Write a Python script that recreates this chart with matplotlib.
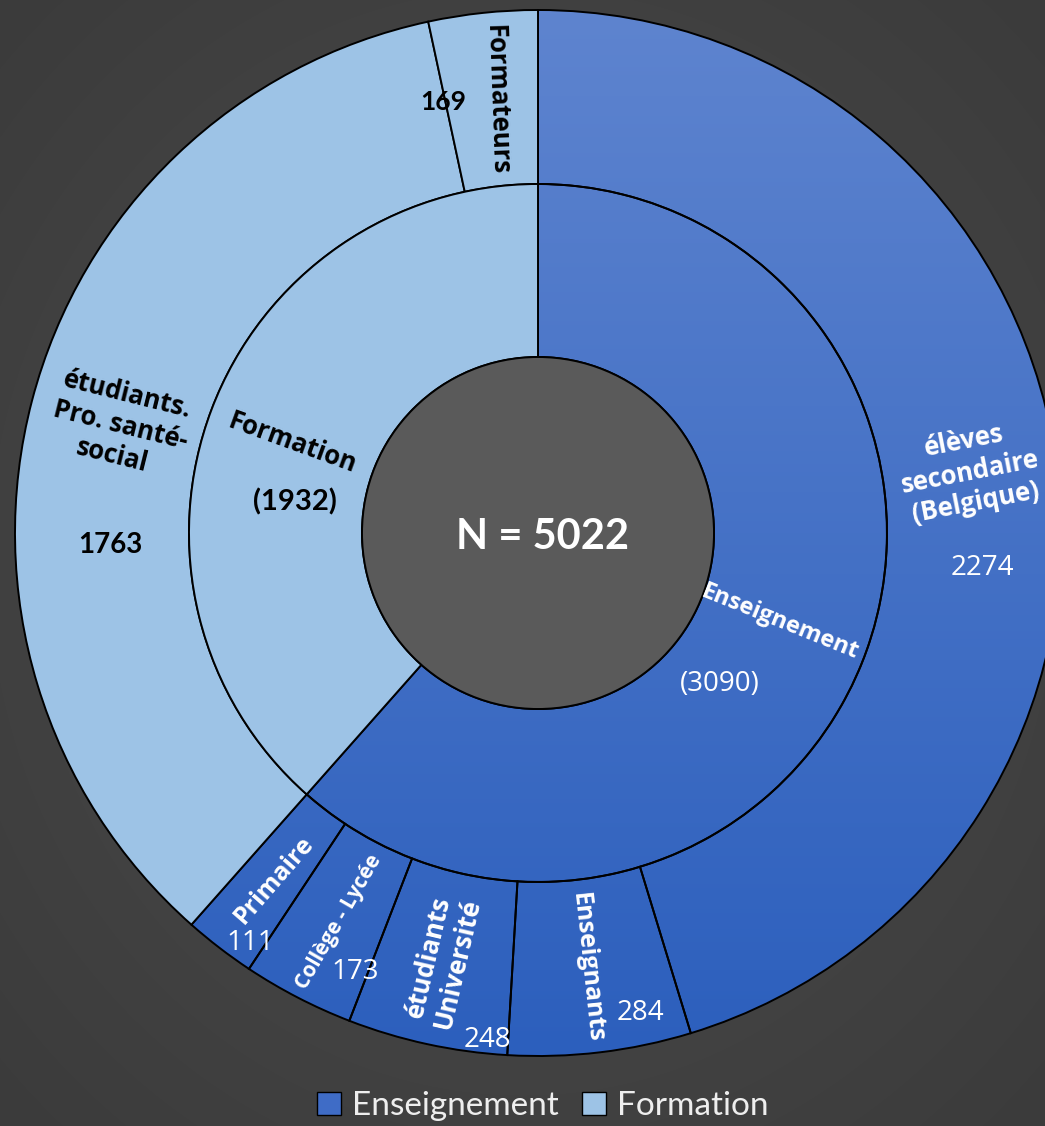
import numpy as np
import matplotlib.pyplot as plt
from matplotlib.colors import LinearSegmentedColormap
from matplotlib.patches import Circle, Patch

# --- Data --------------------------------------------------------------------
groups = ["Enseignement", "Formation"]
group_values = [3090, 1932]
sub_labels = ["élèves\nsecondaire\n(Belgique)", "Enseignants", "étudiants\nUniversité",
              "Collège - Lycée", "Primaire", "étudiants.\nPro. santé-\nsocial", "Formateurs"]
sub_values = [2274, 284, 248, 173, 111, 1763, 169]
sub_group = [0, 0, 0, 0, 0, 1, 1]
total = sum(group_values)

W, H = 1045, 1126
BLUE_TOP, BLUE_BOT = "#5e84cf", "#2c5fbd"
BLUE_LEG = "#3f6cc6"
LIGHT = "#9dc3e6"
FONT = "Open Sans"

fig = plt.figure(figsize=(W / 100, H / 100), dpi=100)

# --- Background (soft radial vignette) ----------------------------------------
bg = fig.add_axes([0, 0, 1, 1])
yy, xx = np.mgrid[0:H, 0:W]
d = np.hypot((xx - W / 2) / W, (yy - H / 2) / H)
bg_cmap = LinearSegmentedColormap.from_list("bg", ["#4d4d4d", "#3b3b3b"])
bg.imshow(d, cmap=bg_cmap, aspect="auto", extent=(0, W, 0, H))
bg.set_axis_off()

ax = fig.add_axes([0, 0, 1, 1])
ax.patch.set_alpha(0)

cx, cy = 538, H - 533
R_out, R_in, R_hole = 523, 349, 176
edge = dict(edgecolor="black", linewidth=1.4)

outer_cols = ["none" if g == 0 else LIGHT for g in sub_group]
outer, _ = ax.pie(sub_values, radius=R_out, center=(cx, cy), startangle=90,
                  counterclock=False, colors=outer_cols,
                  wedgeprops=dict(width=R_out - R_in, **edge))
inner, _ = ax.pie(group_values, radius=R_in, center=(cx, cy), startangle=90,
                  counterclock=False, colors=["none", LIGHT],
                  wedgeprops=dict(width=R_in - R_hole, **edge))

# vertical gradient for the "Enseignement" wedges
blue_cmap = LinearSegmentedColormap.from_list("blue", [BLUE_TOP, BLUE_BOT])
grad = np.linspace(0, 1, 256).reshape(-1, 1)
blue_wedges = [w for w, g in zip(outer, sub_group) if g == 0] + [inner[0]]
for w in blue_wedges:
    im = ax.imshow(grad, cmap=blue_cmap, aspect="auto", zorder=0.5,
                   extent=(cx - R_out, cx + R_out, cy - R_out, cy + R_out))
    im.set_clip_path(w)

ax.add_patch(Circle((cx, cy), R_hole, facecolor="#5a5a5a", edgecolor="black",
                    linewidth=1.4, zorder=3))

ax.set_xlim(0, W)
ax.set_ylim(0, H)
ax.set_aspect("auto")
ax.set_axis_off()


def txt(x, y, s, color="white", size=16, weight="bold", rot=0, family=FONT, ls=1.0):
    ax.text(x, H - y, s, color=color, fontsize=size, fontweight=weight, rotation=rot,
            ha="center", va="center", family=family, linespacing=ls,
            rotation_mode="anchor", zorder=5)


txt(542, 537, f"N = {total}", size=30, family="Lato")

# inner ring
txt(292, 443, groups[1], color="black", size=18.5, rot=-20)
txt(295, 502, f"({group_values[1]})", color="black", size=21, family="Lato")
txt(780, 622, groups[0], size=17, rot=-22)
txt(720, 684, f"({group_values[0]})", size=20, weight="normal")

# outer ring
txt(970, 472, sub_labels[0], size=18.5, rot=11, ls=1.2)
txt(982, 568, str(sub_values[0]), size=20, weight="normal")
txt(587, 968, sub_labels[1], size=18, rot=-84)
txt(640, 1013, str(sub_values[1]), size=20, weight="normal")
txt(443, 960, sub_labels[2], size=18.5, rot=77, ls=1.1)
txt(487, 1040, str(sub_values[2]), size=20, weight="normal")
txt(339, 922, sub_labels[3], size=15, rot=60)
txt(355, 972, str(sub_values[3]), size=20, weight="normal")
txt(274, 880, sub_labels[4], size=18, rot=49)
txt(250, 943, str(sub_values[4]), size=20, weight="normal")
txt(120, 425, sub_labels[5], color="black", size=18.5, rot=-14, ls=1.2)
txt(110, 545, str(sub_values[5]), color="black", size=20, family="Lato")
txt(497, 100, sub_labels[6], color="black", size=18.5, rot=-88)
txt(443, 102, str(sub_values[6]), color="black", size=19, family="Lato")

handles = [Patch(facecolor=BLUE_LEG, edgecolor="black", label=groups[0]),
           Patch(facecolor=LIGHT, edgecolor="black", label=groups[1])]
ax.legend(handles=handles, loc="center", bbox_to_anchor=(543 / W, 1 - 1106 / H),
          ncol=2, frameon=False, labelcolor="#eeeeee",
          handlelength=0.7, handleheight=0.7, handletextpad=0.35, columnspacing=0.7,
          prop=dict(family="Lato", size=24))

fig.savefig("out.png", dpi=100)
